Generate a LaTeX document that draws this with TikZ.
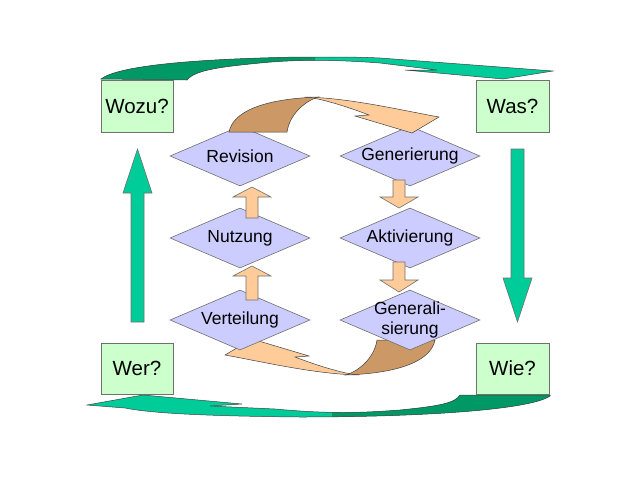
\documentclass[tikz,border=0pt]{standalone}
\usepackage{fontspec}
\setmainfont{Liberation Sans}
\usetikzlibrary{shapes.geometric}
\definecolor{boxg}{HTML}{CCFFCC}
\definecolor{lav}{HTML}{CCCCFF}
\definecolor{gl}{HTML}{00CC99}
\definecolor{gd}{HTML}{009966}
\definecolor{ol}{HTML}{FFCC99}
\definecolor{od}{HTML}{CC9966}
\definecolor{edge}{HTML}{707070}
\newcommand{\vblock}[7]{\filldraw[#7] ({#1-#5},#2) -- ({#1-#5},#4) -- ({#1-#6},#4) -- (#1,#3) -- ({#1+#6},#4) -- ({#1+#5},#4) -- ({#1+#5},#2) -- cycle;}
\newcommand{\orangeback}{(229,132) .. controls (233,112) and (262,99) .. (318,97) .. controls (308,100) and (290,112) .. (287,132) -- cycle}
\newcommand{\orangefront}{(305,97) .. controls (350,98) and (400,110) .. (439,117) -- (412,133) -- (355,116) -- (369,115) .. controls (356,110) and (336,103) .. (318,99) -- cycle}
\newcommand{\topgreen}{(101,79) .. controls (118,66) and (190,59) .. (300,57) .. controls (340,57) and (360,57) .. (380,58) -- (553,71) -- (503,79) -- (405,70) -- (437,70) -- (380,63) .. controls (340,60) and (300,59) .. (260,63) .. controls (220,67) and (195,70) .. (187,80) -- cycle}
\newcommand{\botgreen}{(550,395) -- (460,395) .. controls (455,403) and (440,406) .. (400,410) .. controls (360,413) and (330,414) .. (275,409) -- (210,406) -- (242,404) -- (143,395) -- (87,405) -- (125,408) .. controls (150,413) and (200,416) .. (300,417) .. controls (420,417) and (530,410) .. (550,396) -- cycle}
\begin{document}
\begin{tikzpicture}[x=1pt,y=-1pt,
  qbox/.style={draw=edge, fill=boxg, line width=0.7pt, inner sep=0pt, minimum width=72pt, minimum height=52pt, font=\fontsize{20.5}{24}\selectfont},
  diam/.style={draw=edge, fill=lav, line width=0.6pt, diamond, aspect=2.3333, inner sep=0pt, minimum width=140pt, minimum height=60pt},
  dlbl/.style={font=\fontsize{17.5}{20}\selectfont, align=center, inner sep=0pt},
  garrow/.style={fill=gl, draw=edge, line width=0.6pt},
  oarrow/.style={fill=ol, draw=edge, line width=0.6pt},
  outl/.style={draw=black!75, line width=0.5pt}]
\useasboundingbox[fill=white] (0,0) rectangle (640,480);

% big green curved arrows
\fill[gl] \topgreen;
\begin{scope}\clip (0,0) rectangle (315,120); \fill[gd] \topgreen; \end{scope}
\draw[outl] \topgreen;
\fill[gl] \botgreen;
\begin{scope}\clip (332,360) rectangle (640,480); \fill[gd] \botgreen; \end{scope}
\draw[outl] \botgreen;

% question boxes
\node[qbox] (wozu) at (137,106) {Wozu?};
\node[qbox, minimum width=73pt] (was) at (512.5,106) {Was?};
\node[qbox, minimum height=51pt] (wer) at (137,368.5) {Wer?};
\node[qbox, minimum width=73pt, minimum height=51pt] (wie) at (512.5,368.5) {Wie?};

% vertical green arrows
\vblock{137.5}{322}{149}{193}{6.5}{14.5}{garrow}
\vblock{517.5}{149}{322}{278}{6.5}{14.5}{garrow}

% lower orange curved arrow (behind diamonds)
\begin{scope}[rotate around={180:(332,236)}]
\filldraw[fill=ol, outl] \orangefront;
\filldraw[fill=od, outl] \orangeback;
\end{scope}

% diamonds
\node[diam, label={[dlbl, name=revt]center:Revision}] (rev) at (240,156) {};
\node[diam, label={[dlbl, name=nutt]center:Nutzung}] (nut) at (240,238) {};
\node[diam, label={[dlbl, name=vert]center:Verteilung}] (ver) at (240,320) {};
\node[diam, label={[dlbl, name=gent]center:Generierung}] (gen) at (410,156) {};
\node[diam, label={[dlbl, name=aktt]center:Aktivierung}] (akt) at (410,238) {};
\node[diam, label={[dlbl, name=gslt]center:{Generali-\\sierung}}] (gsl) at (410,320) {};

% small orange arrows
\vblock{252}{300}{266}{276}{6}{19}{oarrow}
\vblock{252}{218}{187}{197}{6}{19}{oarrow}
\vblock{399}{180}{208}{197}{6}{19}{oarrow}
\vblock{399}{262}{292}{280}{6}{19}{oarrow}

% upper orange curved arrow
\filldraw[fill=ol, outl] \orangefront;
\filldraw[fill=od, outl] \orangeback;
\end{tikzpicture}
\end{document}
